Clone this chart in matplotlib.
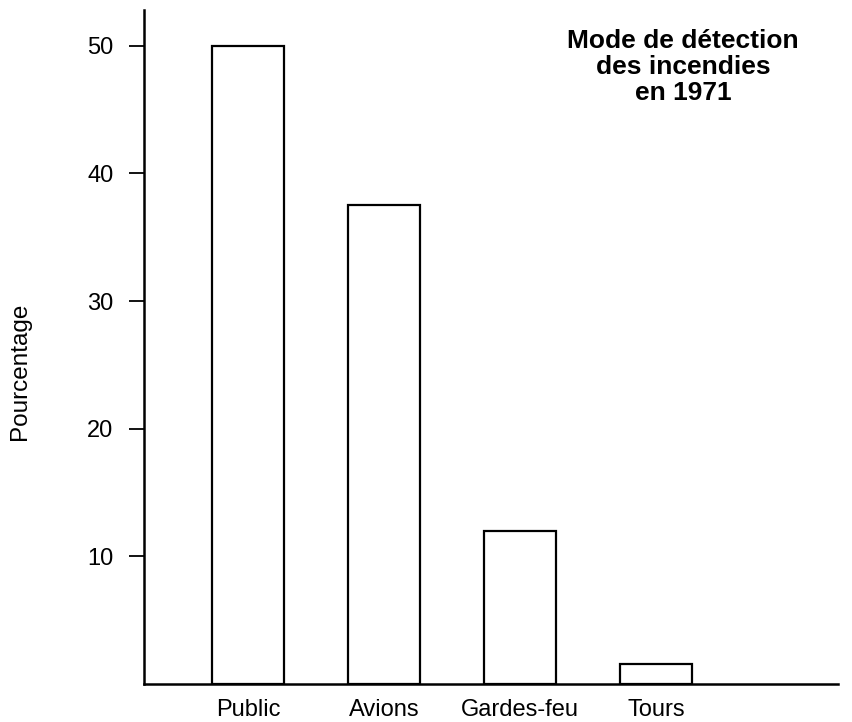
import numpy as np
import matplotlib
matplotlib.use("Agg")
import matplotlib.pyplot as plt

plt.rcParams['font.family'] = ['Liberation Sans', 'DejaVu Sans']

categories = ["Public", "Avions", "Gardes-feu", "Tours"]
pourcentage = [50.0, 37.5, 12.0, 1.6]
y_ticks = [10, 20, 30, 40, 50]

fig = plt.figure(figsize=(8.52, 7.22), dpi=100)
ax = fig.add_axes([144/852, 1 - 684/722, (838 - 144)/852, (684 - 10)/722])

x = np.arange(len(categories))
ax.bar(x, pourcentage, width=0.53, facecolor='white', edgecolor='black', linewidth=1.6)

ax.set_xlim(-0.765, 4.34)
ax.set_ylim(0, 52.8)

ax.spines['top'].set_visible(False)
ax.spines['right'].set_visible(False)
ax.spines['left'].set_linewidth(1.8)
ax.spines['bottom'].set_linewidth(1.8)

ax.set_yticks(y_ticks)
ax.tick_params(axis='y', direction='out', length=11, width=1.3, pad=11, labelsize=17)
ax.set_xticks(x)
ax.set_xticklabels(categories)
ax.tick_params(axis='x', length=0, pad=11, labelsize=17)

fig.text(20/852, 1 - 371/722, "Pourcentage", rotation=90, ha='center', va='center', fontsize=17.5)

ax.text(0.777, 0.972, "Mode de détection\ndes incendies\nen 1971", transform=ax.transAxes,
        ha='center', va='top', fontsize=19, fontweight='bold', linespacing=1.1)

fig.savefig("out.png", dpi=100)
